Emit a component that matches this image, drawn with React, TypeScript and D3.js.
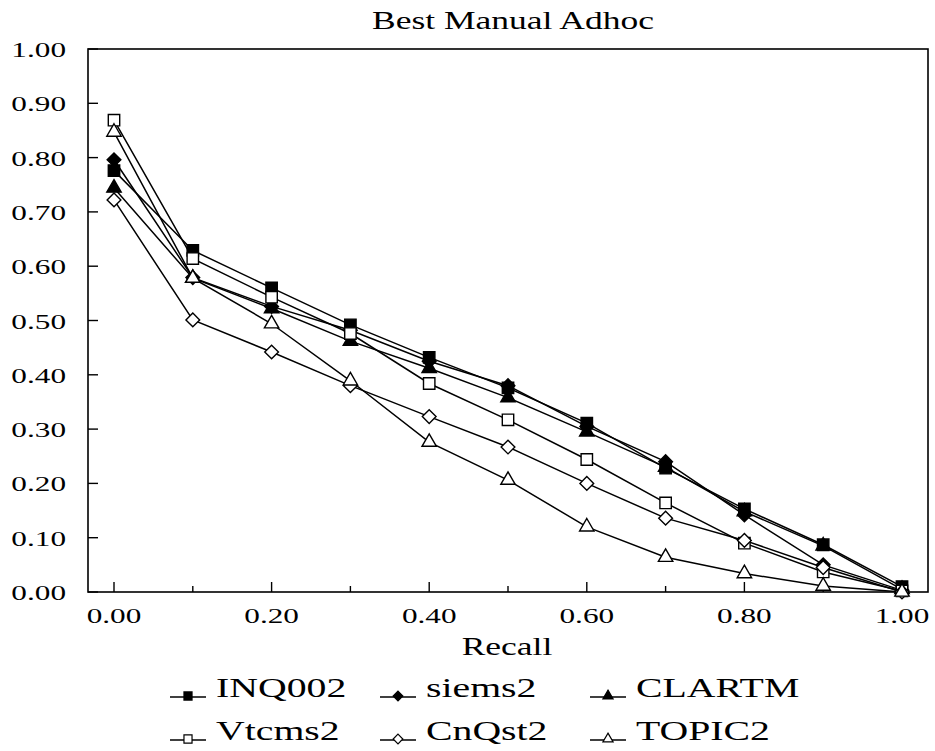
import React from 'react'
import * as d3 from 'd3'

// recall levels and precision per run
const recall = [0, 0.1, 0.2, 0.3, 0.4, 0.5, 0.6, 0.7, 0.8, 0.9, 1.0]
const inq002 = [0.776, 0.629, 0.560, 0.492, 0.432, 0.376, 0.311, 0.228, 0.153, 0.087, 0.010]
const siems2 = [0.796, 0.579, 0.526, 0.482, 0.425, 0.380, 0.305, 0.240, 0.142, 0.050, 0.003]
const clartm = [0.744, 0.578, 0.522, 0.462, 0.412, 0.358, 0.295, 0.230, 0.148, 0.085, 0.005]
const vtcms2 = [0.869, 0.614, 0.543, 0.476, 0.384, 0.317, 0.244, 0.164, 0.090, 0.037, 0.002]
const cnqst2 = [0.722, 0.501, 0.442, 0.380, 0.323, 0.267, 0.200, 0.136, 0.095, 0.045, 0.000]
const topic2 = [0.847, 0.578, 0.494, 0.389, 0.276, 0.206, 0.120, 0.064, 0.034, 0.011, 0.000]

const seriesNames = ['INQ002', 'siems2', 'CLARTM', 'Vtcms2', 'CnQst2', 'TOPIC2']
const seriesValues = [inq002, siems2, clartm, vtcms2, cnqst2, topic2]
const seriesShapes = ['square', 'diamond', 'triangle', 'square', 'diamond', 'triangle']
const seriesFilled = [true, true, true, false, false, false]

const yTicks = [0, 0.1, 0.2, 0.3, 0.4, 0.5, 0.6, 0.7, 0.8, 0.9, 1.0]
const xLabelTicks = [0, 0.2, 0.4, 0.6, 0.8, 1.0]

const W = 935
const H = 751
const frame = { left: 88, top: 49, right: 928, bottom: 592 }
const FONT = '"Liberation Serif", "Times New Roman", serif'
const STRETCH = 1.42

const x = d3.scaleLinear().domain([0, 1]).range([114, 902])
const y = d3.scaleLinear().domain([0, 1]).range([frame.bottom, frame.top])

const diamond = (d3 as any).symbolDiamond2 || d3.symbolDiamond

function markerPath(shape: string, scale: number) {
  if (shape === 'square') return d3.symbol(d3.symbolSquare, 130 * scale)()
  if (shape === 'diamond') return d3.symbol(diamond, 120 * scale)()
  return d3.symbol(d3.symbolTriangle, 90 * scale)()
}

// times-like text, widened to match the scanned figure
function Label({ x, y, size, anchor = 'start', children }: any) {
  return (
    <text
      transform={`translate(${x},${y}) scale(${STRETCH},1)`}
      textAnchor={anchor}
      fontFamily={FONT}
      fontSize={size}
      fill="#000"
    >
      {children}
    </text>
  )
}

const legendCols = [170, 380, 590]
const legendRows = [697, 740]

export default function App() {
  const line = d3.line<number>()
    .x((_, i) => x(recall[i]))
    .y(d => y(d))

  const minorX = d3.range(0, 11).map(i => i / 10)

  return (
    <svg width={W} height={H} style={{ display: 'block', position: 'absolute', left: 0, top: 0 }}>
      <rect width={W} height={H} fill="#fff" />

      <Label x={513} y={29} size={25} anchor="middle">Best Manual Adhoc</Label>

      {/* frame */}
      <rect
        x={frame.left}
        y={frame.top}
        width={frame.right - frame.left}
        height={frame.bottom - frame.top}
        fill="none"
        stroke="#000"
        strokeWidth={1.6}
      />

      {/* y axis */}
      {yTicks.map(t => (
        <g key={'y' + t}>
          <line x1={frame.left} x2={frame.left + 10} y1={y(t)} y2={y(t)} stroke="#000" strokeWidth={1.4} />
          <Label x={66} y={y(t) + 8} size={22} anchor="end">{d3.format('.2f')(t)}</Label>
        </g>
      ))}

      {/* x axis */}
      {minorX.map(t => {
        const major = xLabelTicks.some(v => Math.abs(v - t) < 1e-9)
        return (
          <line
            key={'xt' + t}
            x1={x(t)}
            x2={x(t)}
            y1={frame.bottom}
            y2={frame.bottom - (major ? 10 : 6)}
            stroke="#000"
            strokeWidth={1.4}
          />
        )
      })}
      {xLabelTicks.map(t => (
        <Label key={'xl' + t} x={x(t)} y={623} size={22} anchor="middle">{d3.format('.2f')(t)}</Label>
      ))}
      <Label x={507} y={655} size={25} anchor="middle">Recall</Label>

      {/* series */}
      {seriesValues.map((vals, s) => (
        <path key={'l' + s} d={line(vals) || ''} fill="none" stroke="#000" strokeWidth={1.5} />
      ))}
      {seriesValues.map((vals, s) => (
        <g key={'m' + s}>
          {vals.map((v, i) => (
            <path
              key={i}
              d={markerPath(seriesShapes[s], 1) || ''}
              transform={`translate(${x(recall[i])},${y(v)})`}
              fill={seriesFilled[s] ? '#000' : '#fff'}
              stroke="#000"
              strokeWidth={1.4}
            />
          ))}
        </g>
      ))}

      {/* legend */}
      {seriesNames.map((name, s) => {
        const lx = legendCols[s % 3]
        const ly = legendRows[Math.floor(s / 3)]
        return (
          <g key={'lg' + s}>
            <line x1={lx} x2={lx + 36} y1={ly} y2={ly} stroke="#000" strokeWidth={1.4} />
            <path
              d={markerPath(seriesShapes[s], 0.5) || ''}
              transform={`translate(${lx + 18},${ly - 1})`}
              fill={seriesFilled[s] ? '#000' : '#fff'}
              stroke="#000"
              strokeWidth={1.2}
            />
            <Label x={lx + 46} y={ly} size={28}>{name}</Label>
          </g>
        )
      })}
    </svg>
  )
}
